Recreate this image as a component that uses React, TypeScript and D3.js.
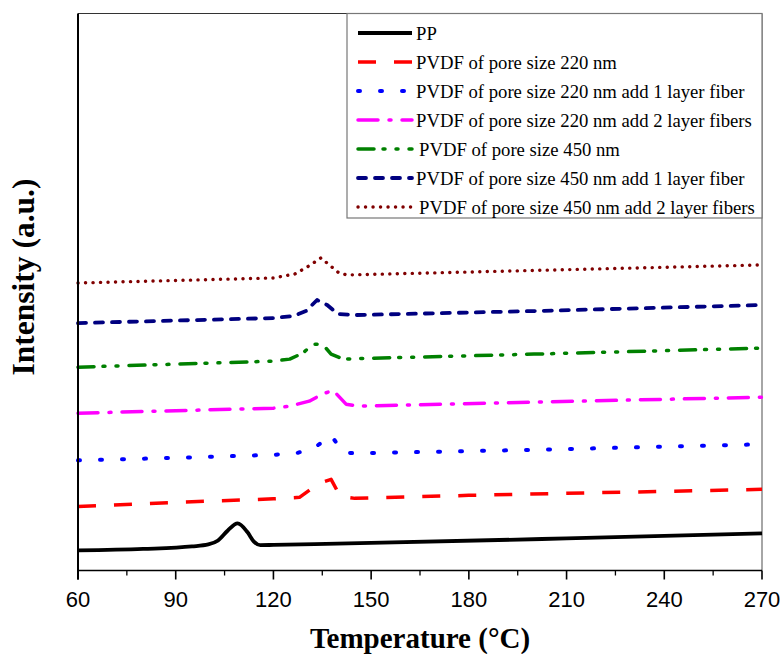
import * as d3 from "d3";

// DSC-style heating curves, intensity in arbitrary units (stacked offsets)
const ppTemp = [60, 80, 95, 100, 103, 106, 109, 112, 114, 116, 120, 150, 210, 270];
const ppInt = [3.6, 3.87, 4.32, 4.68, 5.4, 7.19, 8.45, 6.9, 5.2, 4.55, 4.6, 4.95, 5.76, 6.65];

const p220Temp = [60, 90, 120, 128, 134, 137.7, 140.5, 145, 180, 270];
const p220Int = [11.51, 12.23, 12.86, 13.13, 15.65, 16.37, 13.31, 12.95, 13.49, 14.57];

const p220f1Temp = [60, 90, 120, 127, 132.8, 137.7, 141.4, 145, 200, 270];
const p220f1Int = [19.78, 20.23, 20.77, 21.04, 22.12, 24.28, 21.22, 21.04, 21.67, 22.66];

const p220f2Temp = [60, 90, 120, 125, 131, 135, 138.3, 142.3, 146, 200, 270];
const p220f2Int = [28.24, 28.69, 29.14, 29.5, 30.4, 31.65, 32.37, 29.86, 29.5, 30.22, 31.12];

const p450Temp = [60, 90, 120, 125, 129, 132.2, 135.2, 137.7, 141.4, 146, 200, 270];
const p450Int = [36.51, 37.05, 37.59, 37.95, 39.03, 40.65, 40.56, 38.85, 37.95, 38.04, 38.85, 39.93];

const p450f1Temp = [60, 90, 120, 126, 130, 133.4, 136.5, 139.8, 145, 200, 270];
const p450f1Int = [44.42, 44.87, 45.32, 45.68, 46.58, 48.56, 47.66, 46.04, 45.86, 46.58, 47.66];

const p450f2Temp = [60, 90, 120, 126.6, 130.9, 134.6, 136.8, 140.1, 142.6, 200, 270];
const p450f2Int = [51.62, 52.07, 52.52, 53.24, 54.68, 56.12, 55.04, 53.42, 53.06, 53.87, 54.86];

const seriesNames = [
  "PP",
  "PVDF of pore size 220 nm",
  "PVDF of pore size 220 nm add 1 layer fiber",
  "PVDF of pore size 220 nm add 2 layer fibers",
  "PVDF of pore size 450 nm",
  "PVDF of pore size 450 nm add 1 layer fiber",
  "PVDF of pore size 450 nm add 2 layer fibers",
];

const xTicks = [60, 90, 120, 150, 180, 210, 240, 270];

const W = 780;
const H = 654;
const M = { left: 78, right: 762, top: 13.5, bottom: 570.5 };

const styles = [
  { color: "#000000", dash: "", cap: "butt", width: 3.8, curve: d3.curveMonotoneX },
  { color: "#ff0000", dash: "18 18", cap: "butt", width: 3.5, curve: d3.curveLinear },
  { color: "#0000ff", dash: "2 20", cap: "round", width: 4, curve: d3.curveLinear },
  { color: "#ff00ff", dash: "20 11 2 11", cap: "round", width: 3.5, curve: d3.curveLinear },
  { color: "#008000", dash: "16 9 2 11 2 11", cap: "round", width: 3.5, curve: d3.curveLinear },
  { color: "#000080", dash: "8 9", cap: "round", width: 3.8, curve: d3.curveLinear },
  { color: "#800000", dash: "0.1 7.4", cap: "round", width: 3.4, curve: d3.curveLinear },
];

export default function App() {
  const x = d3.scaleLinear().domain([60, 270]).range([M.left, M.right]);
  const y = d3.scaleLinear().domain([0, 100]).range([M.bottom, M.top]);

  const series = [
    [ppTemp, ppInt],
    [p220Temp, p220Int],
    [p220f1Temp, p220f1Int],
    [p220f2Temp, p220f2Int],
    [p450Temp, p450Int],
    [p450f1Temp, p450f1Int],
    [p450f2Temp, p450f2Int],
  ].map(([t, v], i) => ({
    name: seriesNames[i],
    pts: t.map((tt, j) => [tt, v[j]] as [number, number]),
    ...styles[i],
  }));

  const minorTicks = d3.range(75, 270, 30);

  // legend layout
  const lg = { x0: 347, y0: 13.5, x1: 762, y1: 218, row0: 33, step: 29 };

  return (
    <svg width={W} height={H} style={{ display: "block", position: "absolute", left: 0, top: 0 }}>
      <rect width={W} height={H} fill="#fff" />

      {/* frame */}
      <line x1={M.left} x2={M.right} y1={M.top} y2={M.top} stroke="#333" strokeWidth={1.2} />
      <line x1={M.right} x2={M.right} y1={M.top} y2={M.bottom} stroke="#888" strokeWidth={1.5} />

      {/* curves */}
      {series.map((s) => {
        const line = d3
          .line<[number, number]>()
          .x((d) => x(d[0]))
          .y((d) => y(d[1]))
          .curve(s.curve);
        return (
          <path
            key={s.name}
            d={line(s.pts) || ""}
            fill="none"
            stroke={s.color}
            strokeWidth={s.width}
            strokeDasharray={s.dash || undefined}
            strokeLinecap={s.cap as any}
            strokeLinejoin="round"
          />
        );
      })}

      {/* axes */}
      <line x1={M.left} x2={M.left} y1={M.top} y2={M.bottom + 9} stroke="#000" strokeWidth={2} />
      <line x1={M.left} x2={M.right} y1={M.bottom} y2={M.bottom} stroke="#000" strokeWidth={1.6} />
      {xTicks.map((t) => (
        <g key={t}>
          <line x1={x(t)} x2={x(t)} y1={M.bottom} y2={M.bottom + 9} stroke="#000" strokeWidth={1.6} />
          <text
            x={x(t)}
            y={M.bottom + 36}
            textAnchor="middle"
            fontFamily="Liberation Sans, Arial, sans-serif"
            fontSize={22}
            fill="#000"
          >
            {t}
          </text>
        </g>
      ))}
      {minorTicks.map((t) => (
        <line key={t} x1={x(t)} x2={x(t)} y1={M.bottom} y2={M.bottom + 5} stroke="#000" strokeWidth={1.3} />
      ))}

      <text
        x={(M.left + M.right) / 2}
        y={648}
        textAnchor="middle"
        fontFamily="Liberation Serif, Times New Roman, serif"
        fontWeight="bold"
        fontSize={29}
      >
        Temperature (°C)
      </text>
      <text
        transform={`translate(34,277) rotate(-90)`}
        textAnchor="middle"
        fontFamily="Liberation Serif, Times New Roman, serif"
        fontWeight="bold"
        fontSize={31.5}
      >
        Intensity (a.u.)
      </text>

      {/* legend */}
      <rect
        x={lg.x0}
        y={lg.y0}
        width={lg.x1 - lg.x0}
        height={lg.y1 - lg.y0}
        fill="#fff"
        stroke="#777"
        strokeWidth={1.2}
      />
      {series.map((s, i) => {
        const yy = lg.row0 + i * lg.step;
        return (
          <g key={s.name}>
            <line
              x1={358}
              x2={412}
              y1={yy}
              y2={yy}
              stroke={s.color}
              strokeWidth={s.width}
              strokeDasharray={s.dash || undefined}
              strokeLinecap={s.cap as any}
            />
            <text
              x={i === 4 || i === 6 ? 419 : 416}
              y={yy + 6.5}
              fontFamily="Liberation Serif, Times New Roman, serif"
              fontSize={18.7}
              fill="#000"
            >
              {s.name}
            </text>
          </g>
        );
      })}
    </svg>
  );
}
